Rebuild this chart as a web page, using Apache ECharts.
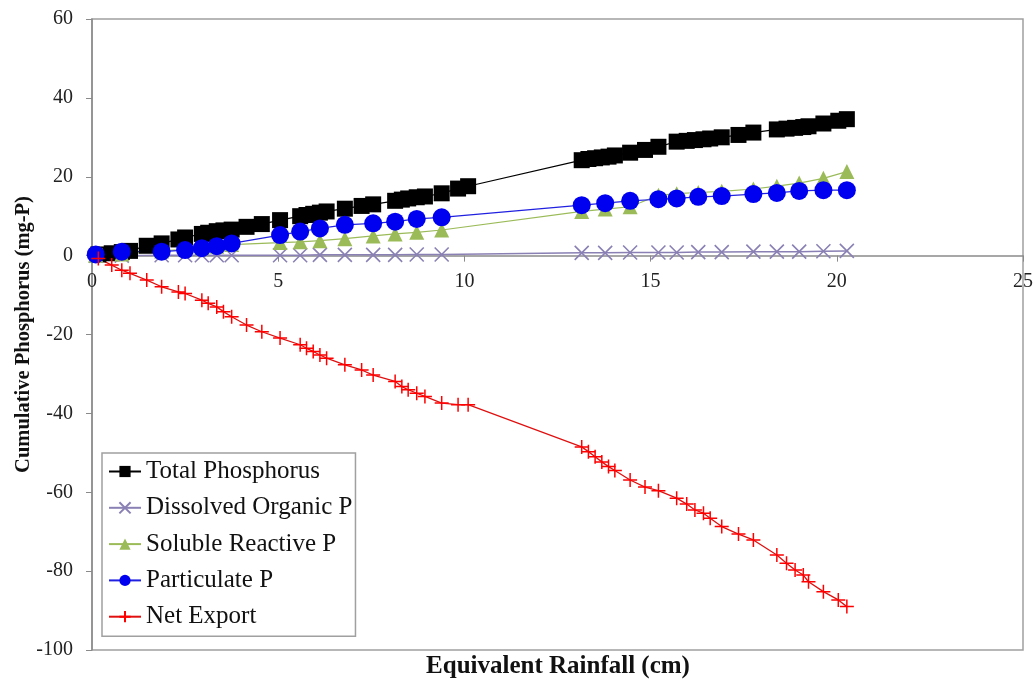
<!DOCTYPE html>
<html>
<head>
<meta charset="utf-8">
<script src="https://cdn.jsdelivr.net/npm/echarts@6/dist/echarts.min.js"></script>
<style>html,body{margin:0;padding:0;background:#fff;}#c{width:1036px;height:684px;}</style>
</head>
<body>
<div id="c"></div>
<script>
// Dense sampling (Total Phosphorus and Net Export)
const xDense = [0.17,0.53,0.80,1.02,1.47,1.87,2.32,2.50,2.95,3.12,3.35,3.53,3.75,4.15,4.56,5.05,5.59,5.76,5.94,6.12,6.30,6.79,7.24,7.55,8.14,8.32,8.49,8.72,8.94,9.39,9.83,10.10,
  13.15,13.33,13.51,13.69,13.87,14.04,14.45,14.85,15.21,15.70,15.97,16.19,16.42,16.60,16.91,17.36,17.76,18.39,18.65,18.88,19.10,19.24,19.64,20.04,20.27];
const totalP = [0.3,0.6,0.9,1.2,2.5,3.1,4.1,4.6,5.5,5.8,6.2,6.4,6.6,7.3,8.0,9.0,10.0,10.3,10.6,10.9,11.2,11.9,12.6,13.0,13.9,14.2,14.5,14.8,15.0,15.8,17.0,17.6,
  24.2,24.5,24.7,24.9,25.1,25.4,26.1,26.8,27.6,28.9,29.1,29.3,29.5,29.7,30.0,30.6,31.2,32.0,32.2,32.4,32.6,32.8,33.5,34.2,34.6];
const netExport = [-0.7,-2.4,-3.7,-4.5,-6.2,-7.9,-9.2,-9.6,-11.3,-12.1,-13.0,-14.2,-15.5,-17.6,-19.3,-20.9,-22.6,-23.5,-24.3,-25.2,-26.0,-27.7,-29.0,-30.3,-31.9,-33.2,-34.0,-34.9,-35.7,-37.4,-37.8,-37.8,
  -48.5,-49.7,-51.0,-52.3,-53.5,-54.5,-56.9,-58.7,-59.6,-61.5,-63.0,-64.5,-65.3,-66.6,-68.7,-70.6,-72.1,-75.9,-78.0,-79.7,-81.0,-82.7,-85.2,-87.3,-89.0];
// Sparse sampling (phosphorus fractions)
const xSparse = [0.10,0.80,1.87,2.50,2.95,3.35,3.75,5.05,5.59,6.12,6.79,7.55,8.14,8.72,9.39,
  13.15,13.78,14.45,15.21,15.70,16.28,16.91,17.76,18.39,18.99,19.64,20.27];
const dissolvedOrgP = [0.0,0.0,0.1,0.1,0.1,0.1,0.1,0.1,0.1,0.2,0.2,0.2,0.2,0.3,0.3,
  0.7,0.7,0.8,0.8,0.8,0.9,0.9,1.0,1.0,1.0,1.1,1.2];
const solubleReactiveP = [0.1,0.4,1.2,1.6,2.0,2.4,2.8,3.3,3.5,3.8,4.3,5.0,5.5,5.9,6.5,
  11.2,11.8,12.4,15.3,15.7,16.0,16.3,16.9,17.6,18.4,19.6,21.3];
const particulateP = [0.3,1.0,1.0,1.4,1.9,2.4,3.1,5.2,6.1,6.9,7.8,8.2,8.6,9.3,9.7,
  12.8,13.3,13.9,14.3,14.5,14.9,15.1,15.6,15.9,16.4,16.6,16.6];
const seriesNames = ['Total Phosphorus','Dissolved Organic P','Soluble Reactive P','Particulate P','Net Export'];
const yTicks = [-100,-80,-60,-40,-20,0,20,40,60];
const xTicks = [0,5,10,15,20,25];

const zip = (xs, ys) => xs.map((x, i) => [x, ys[i]]);
const FONT = '"Liberation Serif", "Times New Roman", serif';

const GRID = {left: 92, right: 13, top: 19, bottom: 34};
const plotH = 684 - GRID.top - GRID.bottom;
const yMin = yTicks[0], yMax = yTicks[yTicks.length - 1];
// distance from plot bottom to the zero line, so tick labels sit under the zero axis
const zeroFromBottom = plotH * (0 - yMin) / (yMax - yMin);

const chart = echarts.init(document.getElementById('c'), null, {renderer: 'canvas'});
chart.setOption({
  animation: false,
  backgroundColor: '#fff',
  grid: Object.assign({show: true, borderColor: '#a0a0a0', borderWidth: 1.5, backgroundColor: 'transparent',
    containLabel: false, outerBoundsMode: 'none'}, GRID),
  xAxis: {
    type: 'value', min: xTicks[0], max: xTicks[xTicks.length - 1], interval: 5,
    axisLine: {onZero: true, lineStyle: {color: '#8a8a8a', width: 1.5}},
    axisTick: {show: true, inside: false, length: 6, lineStyle: {color: '#8a8a8a'}},
    axisLabel: {color: '#222', fontFamily: FONT, fontSize: 20, margin: 16 - zeroFromBottom},
    splitLine: {show: false}
  },
  yAxis: {
    type: 'value', min: yMin, max: yMax, interval: 20,
    axisLine: {show: true, onZero: false, lineStyle: {color: '#8a8a8a', width: 1.5}},
    axisTick: {show: true, inside: false, length: 6, lineStyle: {color: '#8a8a8a'}},
    axisLabel: {color: '#222', fontFamily: FONT, fontSize: 20, margin: 19},
    splitLine: {show: false},
    name: 'Cumulative Phosphorus (mg-P)', nameLocation: 'middle', nameGap: 58, nameMoveOverlap: false,
    nameTextStyle: {fontFamily: FONT, fontSize: 20.5, fontWeight: 'bold', color: '#111'}
  },
  graphic: [{
    type: 'text', x: 558, y: 667,
    style: {text: 'Equivalent Rainfall (cm)', fontFamily: FONT, fontSize: 25, fontWeight: 'bold', fill: '#111', align: 'center', verticalAlign: 'middle'}
  }],
  legend: {
    orient: 'vertical', left: 102, top: 453,
    backgroundColor: '#fff', borderColor: '#a0a0a0', borderWidth: 1.5,
    padding: [6, 3, 7, 6], itemGap: 11.3, itemWidth: 32, itemHeight: 14,
    textStyle: {fontFamily: FONT, fontSize: 25, color: '#111', lineHeight: 25},
    data: seriesNames
  },
  series: [
    {name: seriesNames[0], type: 'line', data: zip(xDense, totalP), symbol: 'rect', symbolSize: 16,
     itemStyle: {color: '#000'}, lineStyle: {color: '#000', width: 1.2}},
    {name: seriesNames[1], type: 'line', data: zip(xSparse, dissolvedOrgP), symbol: 'path://M0,0L10,10M10,0L0,10', symbolSize: 14,
     itemStyle: {color: '#8a80b4', borderColor: '#8a80b4', borderWidth: 1.6}, lineStyle: {color: '#8a80b4', width: 1.5}},
    {name: seriesNames[2], type: 'line', data: zip(xSparse, solubleReactiveP), symbol: 'triangle', symbolSize: 15,
     itemStyle: {color: '#9bbb59'}, lineStyle: {color: '#9bbb59', width: 1.2}},
    {name: seriesNames[3], type: 'line', data: zip(xSparse, particulateP), symbol: 'circle', symbolSize: 18,
     itemStyle: {color: '#0000f0'}, lineStyle: {color: '#2020e0', width: 1.2}},
    {name: seriesNames[4], type: 'line', data: zip(xDense, netExport), symbol: 'path://M5,0L5,10M0,5L10,5', symbolSize: 14,
     itemStyle: {color: '#ff0000', borderColor: '#ff0000', borderWidth: 1.5}, lineStyle: {color: '#e01010', width: 1.3}}
  ]
});
</script>
</body>
</html>
